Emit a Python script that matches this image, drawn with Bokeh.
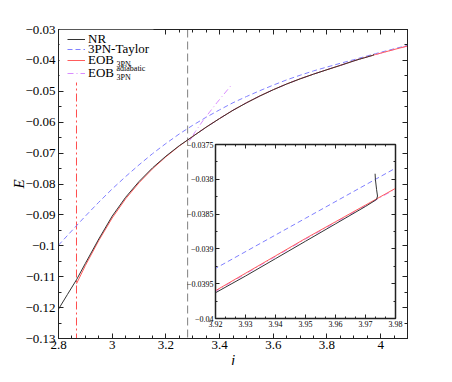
from bokeh.plotting import figure
from bokeh.models import (Range1d, SingleIntervalTicker, CustomJSTickFormatter, LinearAxis,
                          Legend, LegendItem, Label, Span, BoxAnnotation, GridBox)
from bokeh.embed import file_html
from bokeh.resources import INLINE

SERIF = "Liberation Serif"

# ---------------- data ----------------
nr_j = [2.8, 2.833, 2.867, 2.9, 2.95, 3.0, 3.05, 3.1, 3.15, 3.2, 3.25, 3.3, 3.35, 3.4, 3.45, 3.5,
        3.55, 3.6, 3.65, 3.7, 3.75, 3.8, 3.85, 3.9, 3.92, 3.93, 3.94, 3.95, 3.96, 3.97,
        3.9737, 3.9740, 3.9737, 3.9733, 3.9732]
nr_E = [-0.1205, -0.1158, -0.1110, -0.1057, -0.0978, -0.0904, -0.0843, -0.0792, -0.0748, -0.0710,
        -0.0676, -0.06462, -0.06162, -0.05882, -0.05614, -0.05374, -0.05152, -0.04949, -0.04764,
        -0.04597, -0.04445, -0.04302, -0.04162, -0.04017, -0.03963, -0.03939, -0.03914, -0.03889,
        -0.03864, -0.03839, -0.03829, -0.03824, -0.03815, -0.03800, -0.03792]

eob_j = [2.867, 2.9, 2.95, 3.0, 3.05, 3.1, 3.15, 3.2, 3.25, 3.3, 3.35, 3.4, 3.45, 3.5, 3.55, 3.6,
         3.65, 3.7, 3.75, 3.8, 3.85, 3.9, 3.92, 3.93, 3.94, 3.95, 3.96, 3.97, 3.98, 4.0, 4.05, 4.1]
eob_E = [-0.1123, -0.1064, -0.0983, -0.0910, -0.0848, -0.0796, -0.0751, -0.0712, -0.0677, -0.0646,
         -0.0616, -0.0588, -0.05612, -0.05372, -0.0515, -0.04947, -0.04762, -0.04595, -0.04443,
         -0.0430, -0.0416, -0.04015, -0.0396, -0.03935, -0.0391, -0.03885, -0.03861, -0.03837,
         -0.03813, -0.03766, -0.03648, -0.03535]

adi_j = [4.1, 4.05, 4.0, 3.98, 3.97, 3.96, 3.95, 3.94, 3.93, 3.92, 3.9, 3.85, 3.8, 3.75, 3.7,
         3.65, 3.6, 3.55, 3.5, 3.45, 3.4, 3.35, 3.3, 3.287, 3.31, 3.338, 3.39, 3.443]
adi_E = [-0.03536, -0.03649, -0.03767, -0.03814, -0.03838, -0.03862, -0.03886, -0.03911, -0.03936,
         -0.03961, -0.04016, -0.04161, -0.04301, -0.04444, -0.04596, -0.04763, -0.04948, -0.05151,
         -0.05373, -0.05613, -0.05881, -0.06161, -0.06461, -0.0661, -0.0630, -0.0595, -0.0537,
         -0.0481]

tay_j = [2.8, 2.867, 2.9, 2.95, 3.0, 3.05, 3.1, 3.15, 3.2, 3.25, 3.3, 3.35, 3.4, 3.45, 3.5, 3.55,
         3.6, 3.65, 3.7, 3.75, 3.8, 3.85, 3.9, 3.92, 3.95, 3.98, 4.0, 4.05, 4.1]
tay_E = [-0.0998, -0.0935, -0.0904, -0.0859, -0.0816, -0.0776, -0.0738, -0.0702, -0.0669, -0.0638,
         -0.0610, -0.0584, -0.0560, -0.0537, -0.0517, -0.0498, -0.0480, -0.0463, -0.0448, -0.0434,
         -0.04215, -0.04093, -0.03977, -0.03928, -0.03856, -0.03784, -0.03738, -0.03625, -0.03515]

merger_j = 2.867
lso_j = 3.281

main_x = (2.8, 4.1)
main_y = (-0.13, -0.03)
inset_x = (3.92, 3.98)
inset_y = (-0.04, -0.0375)

labels = ["NR", "3PN-Taylor", "EOB", "EOB"]
sub_label = "3PN"
sup_label = "adiabatic"

C_NR = "#333333"
C_TAY = "#8080ff"
C_EOB = "#ff5c5c"
C_ADI = "#d98cff"

num_fmt = "const s = String(parseFloat(tick.toFixed(6))); return s.replace('-', '\\u2212');"


def style_axis(ax, size, tick_in, minor_in):
    ax.major_tick_in = tick_in
    ax.major_tick_out = 0
    ax.minor_tick_in = minor_in
    ax.minor_tick_out = 0
    ax.axis_line_color = "#222222"
    ax.major_tick_line_color = "#222222"
    ax.minor_tick_line_color = "#222222"
    ax.major_label_text_font = SERIF
    ax.major_label_text_font_size = size
    ax.major_label_text_color = "black"


def add_box_axes(fig, xt, yt, tick_in, minor_in):
    for loc, tk in (("above", xt), ("right", yt)):
        ax = LinearAxis(ticker=tk, formatter=CustomJSTickFormatter(code="return '';"))
        style_axis(ax, "1px", tick_in, minor_in)
        ax.major_label_standoff = 0
        fig.add_layout(ax, loc)


# ---------------- main figure ----------------
p = figure(frame_width=351, frame_height=310, x_range=Range1d(*main_x), y_range=Range1d(*main_y),
           output_backend="svg", toolbar_location=None,
           min_border_left=50, min_border_right=35, min_border_top=21, min_border_bottom=35,
           margin=(-1, 0, 0, -2), align="start")
p.grid.visible = False
p.outline_line_color = "#222222"
p.background_fill_color = "white"
p.border_fill_color = "white"

xt = SingleIntervalTicker(interval=0.2, num_minor_ticks=4)
yt = SingleIntervalTicker(interval=0.01, num_minor_ticks=2)
p.xaxis.ticker = xt
p.yaxis.ticker = yt
p.xaxis.formatter = CustomJSTickFormatter(code=num_fmt)
p.yaxis.formatter = CustomJSTickFormatter(code=num_fmt)
for ax in p.xaxis + p.yaxis:
    style_axis(ax, "13px", 5, 3)
    ax.axis_label_text_font = SERIF
    ax.axis_label_text_font_style = "italic"
    ax.axis_label_text_font_size = "15px"
    ax.axis_label_text_color = "black"
p.xaxis.axis_label = "j"
p.yaxis.axis_label = "E"
p.xaxis.major_label_standoff = 2
p.yaxis.major_label_standoff = 3
p.xaxis.axis_label_standoff = 0
p.yaxis.axis_label_standoff = -5
add_box_axes(p, xt, yt, 5, 3)

p.add_layout(Span(location=merger_j, dimension="height", line_color="#ff4d4d", line_width=1,
                  line_dash="8 3 2 3", level="underlay"))
p.add_layout(Span(location=lso_j, dimension="height", line_color="#808080", line_width=1,
                  line_dash="8 4", level="underlay"))

r_tay = p.line(tay_j, tay_E, line_color=C_TAY, line_width=1, line_dash="5 3")
r_adi = p.line(adi_j, adi_E, line_color=C_ADI, line_width=1, line_dash="6 3 1 3")
r_eob = p.line(eob_j, eob_E, line_color=C_EOB, line_width=1)
r_nr = p.line(nr_j, nr_E, line_color=C_NR, line_width=1)

# white box behind the legend (it hides the top of the dash-dot line)
p.add_layout(BoxAnnotation(left=1, right=95, top=309, bottom=256,
                           left_units="screen", right_units="screen",
                           top_units="screen", bottom_units="screen",
                           fill_color="white", fill_alpha=1, line_color=None))

row_renderers = [r_nr, r_tay, r_eob, r_adi]
row_bottoms = [291.5, 281.5, 270.5, 257]
for lab, rend, yb in zip(labels, row_renderers, row_bottoms):
    p.add_layout(Legend(items=[LegendItem(label=lab, renderers=[rend])],
                        location=(9, yb), margin=0, padding=0, spacing=0,
                        glyph_width=18, glyph_height=16, label_height=16, label_standoff=3,
                        label_text_font=SERIF, label_text_font_size="13px",
                        label_text_color="black", border_line_color=None,
                        background_fill_alpha=0))

for txt, xs, ys in ((sub_label, 58, 274.5), (sup_label, 58, 270), (sub_label, 58, 261.5)):
    p.add_layout(Label(x=xs, y=ys, x_units="screen", y_units="screen", text=txt,
                       text_font=SERIF, text_font_size="8px", text_color="black",
                       text_align="left", text_baseline="middle", level="overlay"))

# ---------------- inset ----------------
q = figure(frame_width=180, frame_height=174, x_range=Range1d(*inset_x), y_range=Range1d(*inset_y),
           output_backend="svg", toolbar_location=None,
           min_border_left=60, min_border_right=30, min_border_top=30, min_border_bottom=30,
           margin=(114, 0, 0, 155), align="start")
q.grid.visible = False
q.outline_line_color = "#222222"
q.outline_line_width = 1.5
q.background_fill_color = "white"
q.border_fill_alpha = 0
qxt = SingleIntervalTicker(interval=0.01, num_minor_ticks=3)
qyt = SingleIntervalTicker(interval=0.0005, num_minor_ticks=2)
q.xaxis.ticker = qxt
q.yaxis.ticker = qyt
q.xaxis.formatter = CustomJSTickFormatter(code=num_fmt)
q.yaxis.formatter = CustomJSTickFormatter(code=num_fmt)
for ax in q.xaxis + q.yaxis:
    style_axis(ax, "8px", 4, 2)
    ax.major_label_standoff = 2
add_box_axes(q, qxt, qyt, 4, 2)

q.line(tay_j, tay_E, line_color=C_TAY, line_width=1, line_dash="5 3")
q.line(adi_j, adi_E, line_color=C_ADI, line_width=1, line_dash="6 3 1 3")
q.line(eob_j, eob_E, line_color=C_EOB, line_width=1)
q.line(nr_j, nr_E, line_color=C_NR, line_width=1)

root = GridBox(children=[(p, 0, 0), (q, 0, 0)])
open("out.html", "w").write(file_html(root, INLINE))
